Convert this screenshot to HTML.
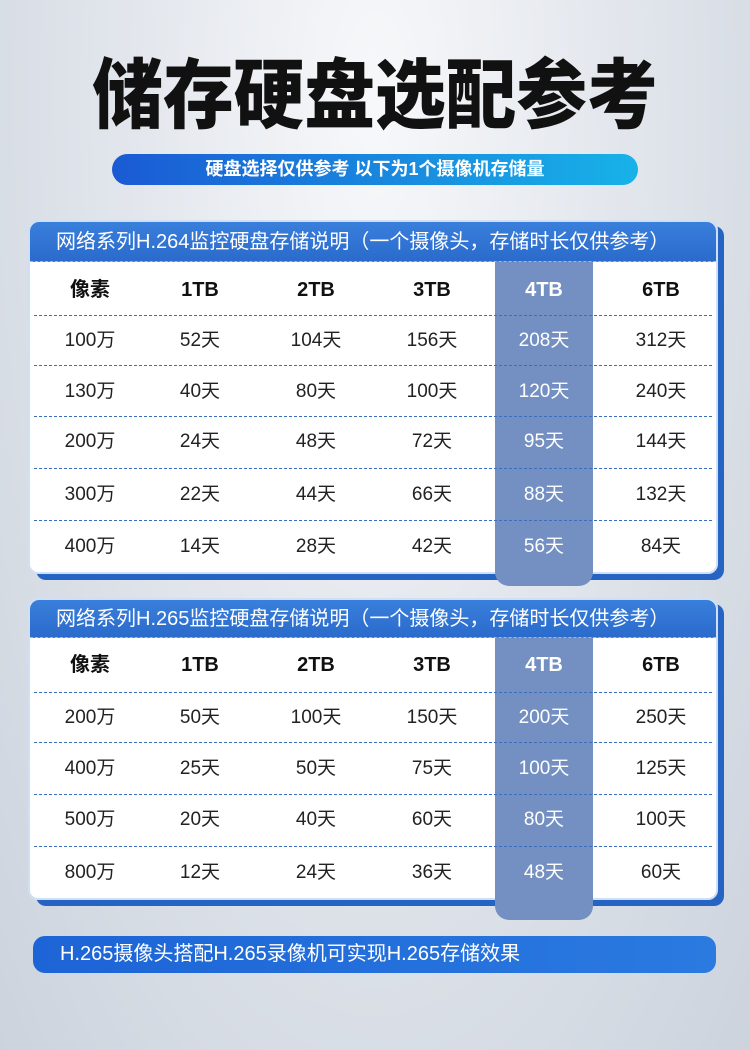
<!DOCTYPE html>
<html><head><meta charset="utf-8"><style>
*{margin:0;padding:0;box-sizing:border-box}
body{width:750px;height:1050px;position:relative;overflow:hidden;font-family:"Liberation Sans","Noto Sans CJK SC",sans-serif;background:radial-gradient(ellipse at 50% 10%,#f7f8fa 0%,#e3e7ed 45%,#ccd3dd 100%)}
.a{position:absolute}
.title{left:0;width:750px;top:52px;text-align:center;font-size:76px;font-weight:900;color:#111;line-height:90px;transform:scaleX(0.93)}
.pill{left:112px;top:154px;width:526px;height:31px;border-radius:16px;background:linear-gradient(90deg,#1a5ad4,#18b2e8);color:#fff;font-size:18px;font-weight:bold;text-align:center;line-height:31px}
.shadow{background:#2664c4;border-radius:10px}
.panel{background:#fff;border-radius:10px;overflow:hidden;border:2px solid #cfe0f6}
.hd{background:linear-gradient(180deg,#3a7fdc,#2a6bcc);color:#fff;font-size:20px;padding-left:26px;border-bottom:1px dashed #9bbbe6;white-space:nowrap}
.hl{background:#7490c2;border-radius:0 0 14px 14px}
.row div{text-align:center;font-size:19px;color:#222}
.row div.h{color:#fff}
.th div{font-weight:bold;font-size:20px;color:#111}
.dash{left:34px;width:678px;border-top:1px dashed #3a6fc0}
.bar{left:33px;top:936px;width:683px;height:37px;border-radius:12px;background:linear-gradient(90deg,#1d64d6,#2a7ae0);color:#fff;font-size:20px;line-height:37px;padding-left:27px}
</style></head><body>
<div class="a title">储存硬盘选配参考</div>
<div class="a pill">硬盘选择仅供参考 以下为1个摄像机存储量</div>

<div class="a shadow" style="left:36px;top:226px;width:688px;height:354px"></div>
<div class="a panel" style="left:28px;top:220px;width:690px;height:354px"></div>
<div class="a hd" style="left:30px;top:222px;width:686px;height:40px;line-height:40px;border-radius:9px 9px 0 0">网络系列H.264监控硬盘存储说明（一个摄像头，存储时长仅供参考）</div>
<div class="a hl" style="left:495px;top:262px;width:98px;height:324px"></div>
<div class="a dash" style="top:315px"></div><div class="a dash" style="top:365px"></div><div class="a dash" style="top:416px"></div><div class="a dash" style="top:468px"></div><div class="a dash" style="top:520px"></div>

<div class="a shadow" style="left:36px;top:604px;width:688px;height:302px"></div>
<div class="a panel" style="left:28px;top:598px;width:690px;height:302px"></div>
<div class="a hd" style="left:30px;top:600px;width:686px;height:38px;line-height:38px;border-radius:9px 9px 0 0">网络系列H.265监控硬盘存储说明（一个摄像头，存储时长仅供参考）</div>
<div class="a hl" style="left:495px;top:638px;width:98px;height:282px"></div>
<div class="a dash" style="top:692px"></div><div class="a dash" style="top:742px"></div><div class="a dash" style="top:794px"></div><div class="a dash" style="top:846px"></div>

<div class="a bar">H.265摄像头搭配H.265录像机可实现H.265存储效果</div>
<script>
var cx=[90,200,316,432,544,661];
function row(y,cells,th){var d=document.createElement('div');d.className='a row'+(th?' th':'');d.style.top=(y-15)+'px';d.style.height='30px';d.style.left='0';d.style.width='750px';
cells.forEach(function(c,i){var e=document.createElement('div');e.className='a'+(i==4?' h':'');e.style.left=(cx[i]-60)+'px';e.style.width='120px';e.style.top='0';e.style.lineHeight='30px';e.textContent=c;d.appendChild(e);});document.body.appendChild(d);}
var H=['像素','1TB','2TB','3TB','4TB','6TB'];
row(290,H,1);
[[341,'100万',52,104,156,208,312],[392,'130万',40,80,100,120,240],[442,'200万',24,48,72,95,144],[495,'300万',22,44,66,88,132],[547,'400万',14,28,42,56,84]].forEach(function(r){row(r[0],[r[1]].concat(r.slice(2).map(function(v){return v+'天'})))});
row(665,H,1);
[[718,'200万',50,100,150,200,250],[769,'400万',25,50,75,100,125],[820,'500万',20,40,60,80,100],[873,'800万',12,24,36,48,60]].forEach(function(r){row(r[0],[r[1]].concat(r.slice(2).map(function(v){return v+'天'})))});
</script>
</body></html>
